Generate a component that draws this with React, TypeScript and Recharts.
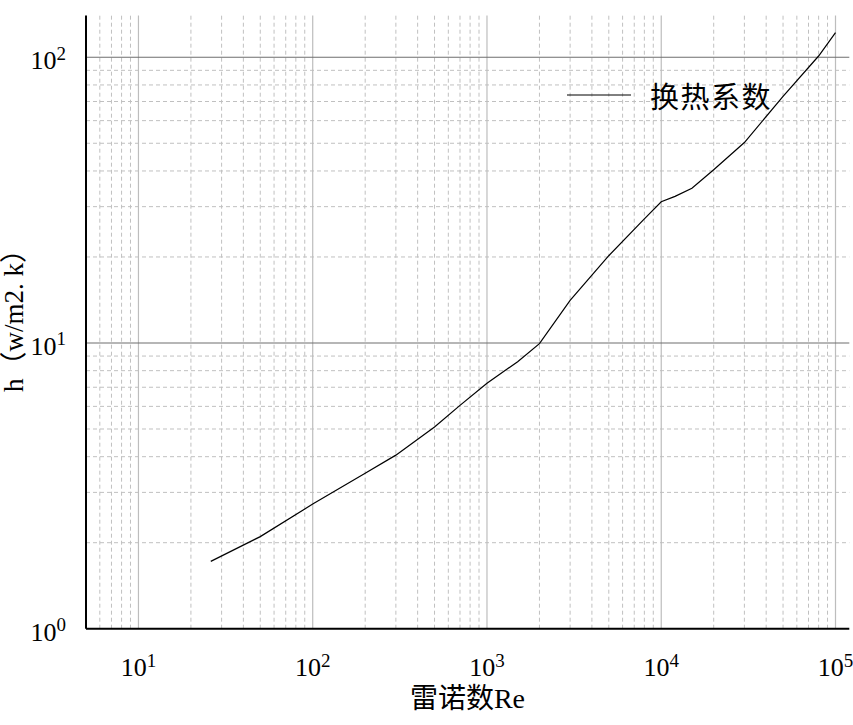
import React from 'react';
import { LineChart, Line, XAxis, YAxis, ReferenceLine, Legend } from 'recharts';

const reynolds = [26, 50, 100, 200, 300, 500, 700, 1000, 1500, 2000, 3000, 5000, 8000, 10000, 12000, 15000, 20000, 30000, 50000, 80000, 100000];
const heatCoef = [1.72, 2.1, 2.73, 3.5, 4.05, 5.08, 6.05, 7.23, 8.6, 9.95, 14.1, 20.2, 27.2, 31.2, 32.6, 34.8, 40.4, 50.3, 73, 101, 122];

const xMajorTicks = [10, 100, 1000, 10000, 100000];
const xMinorTicks = [
  6, 7, 8, 9,
  20, 30, 40, 50, 60, 70, 80, 90,
  200, 300, 400, 500, 600, 700, 800, 900,
  2000, 3000, 4000, 5000, 6000, 7000, 8000, 9000,
  20000, 30000, 40000, 50000, 60000, 70000, 80000, 90000,
];
const yMajorTicks = [1, 10, 100];
const yMinorTicks = [2, 3, 4, 5, 6, 7, 8, 9, 20, 30, 40, 50, 60, 70, 80, 90];

const data = reynolds.map((re, i) => ({ re, h: heatCoef[i] }));

const SERIF = '"Liberation Serif", "DejaVu Serif", serif';
const MIXED = '"Liberation Serif", "Noto Sans CJK SC", serif';

const expOf = (v: number) => Math.round(Math.log10(v));

const XTick = (props: any) => {
  const { x, payload } = props;
  return (
    <text x={x} y={676} textAnchor="middle" fontFamily={SERIF} fill="#000">
      <tspan fontSize={26}>10</tspan>
      <tspan fontSize={19} dy={-9.5}>{expOf(payload.value)}</tspan>
    </text>
  );
};

const YTick = (props: any) => {
  const { y, payload } = props;
  return (
    <text x={66} y={y + 12} textAnchor="end" fontFamily={SERIF} fill="#000">
      <tspan fontSize={26}>10</tspan>
      <tspan fontSize={19} dy={-9.5}>{expOf(payload.value)}</tspan>
    </text>
  );
};

const LegendContent = () => (
  <div style={{ display: 'flex', alignItems: 'center' }}>
    <svg width={66} height={4} style={{ display: 'block' }}>
      <line x1={1} y1={2} x2={65} y2={2} stroke="#000" strokeWidth={1} />
    </svg>
    <span
      style={{
        marginLeft: 18,
        fontFamily: '"Noto Sans CJK SC", sans-serif',
        fontSize: 29,
        letterSpacing: 1.5,
        color: '#000',
        lineHeight: '32px',
      }}
    >
      换热系数
    </span>
  </div>
);

export default function App() {
  return (
    <div style={{ position: 'absolute', left: 0, top: 0, width: 853, height: 725, background: '#fff' }}>
      <LineChart
        width={853}
        height={725}
        data={data}
        margin={{ top: 15.5, right: 3.7, left: 0, bottom: 0 }}
      >
        <XAxis
          dataKey="re"
          type="number"
          scale="log"
          domain={[5, 120000]}
          allowDataOverflow
          ticks={xMajorTicks}
          interval={0}
          height={96.3}
          axisLine={{ stroke: '#000', strokeWidth: 2 }}
          tickLine={false}
          tick={<XTick />}
          label={{
            value: '雷诺数Re',
            position: 'insideBottom',
            offset: 0,
            content: () => (
              <text x={467.5} y={708} textAnchor="middle" fontFamily={MIXED} fontSize={28} fill="#000">
                雷诺数Re
              </text>
            ),
          }}
        />
        <YAxis
          type="number"
          scale="log"
          domain={[1, 140]}
          allowDataOverflow
          ticks={yMajorTicks}
          interval={0}
          width={86}
          axisLine={{ stroke: '#000', strokeWidth: 2 }}
          tickLine={false}
          tick={<YTick />}
          label={{
            value: 'h（w/m2. k）',
            content: () => (
              <text
                x={0}
                y={0}
                transform="translate(23 314) rotate(-90)"
                textAnchor="middle"
                fontFamily={MIXED}
                fontSize={27}
                fill="#000"
              >
                h（w/m2. k）
              </text>
            ),
          }}
        />
        {xMinorTicks.map((v) => (
          <ReferenceLine key={'xm' + v} x={v} stroke="#c0c0c0" strokeDasharray="4 3" strokeWidth={1} />
        ))}
        {yMinorTicks.map((v) => (
          <ReferenceLine key={'ym' + v} y={v} stroke="#c0c0c0" strokeDasharray="4 3" strokeWidth={1} />
        ))}
        {xMajorTicks.map((v) => (
          <ReferenceLine key={'xM' + v} x={v} stroke="#bdbdbd" strokeWidth={1.2} />
        ))}
        {yMajorTicks.slice(1).map((v) => (
          <ReferenceLine key={'yM' + v} y={v} stroke="#6e6e6e" strokeWidth={1.2} />
        ))}
        <Legend
          verticalAlign="middle"
          align="center"
          layout="horizontal"
          content={<LegendContent />}
          wrapperStyle={{ position: 'absolute', left: 566, top: 79, width: 'auto', height: 'auto' }}
        />
        <Line
          dataKey="h"
          type="linear"
          stroke="#000"
          strokeWidth={1.2}
          dot={false}
          isAnimationActive={false}
          name="换热系数"
        />
      </LineChart>
    </div>
  );
}
